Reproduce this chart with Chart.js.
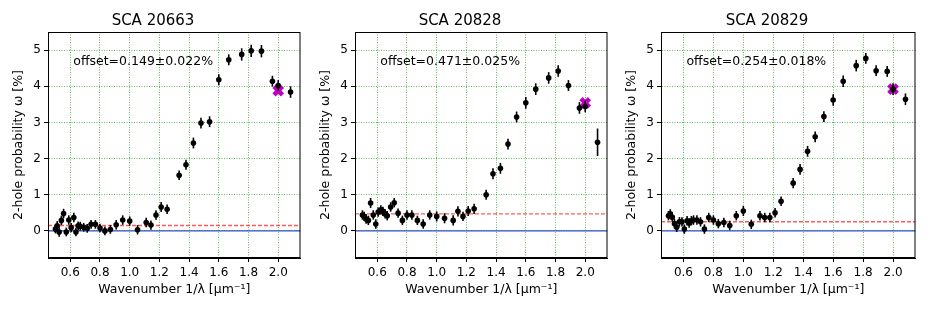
<!DOCTYPE html>
<html>
<head>
<meta charset="utf-8">
<script src="https://cdn.jsdelivr.net/npm/chart.js@4.4.0/dist/chart.umd.min.js"></script>
<style>
  body { margin: 0; background: #fff; }
  #wrap { position: relative; width: 934px; height: 312px; overflow: hidden; }
  canvas { position: absolute; top: 0; }
</style>
</head>
<body>
<div id="wrap">
  <canvas id="c0" width="311" height="312" style="left:0px"></canvas>
  <canvas id="c1" width="311" height="312" style="left:307px"></canvas>
  <canvas id="c2" width="313" height="312" style="left:613px"></canvas>
</div>
<script>
// wavenumber 1/lambda [um^-1], shared by all three detectors
const wavenumber = [0.500, 0.512, 0.525, 0.540, 0.555, 0.573, 0.590, 0.606, 0.624, 0.638,
  0.653, 0.667, 0.690, 0.714, 0.740, 0.769, 0.800, 0.833, 0.870, 0.909,
  0.953, 1.000, 1.053, 1.111, 1.143, 1.177, 1.212, 1.252, 1.333, 1.379,
  1.429, 1.480, 1.538, 1.600, 1.667, 1.754, 1.818, 1.887, 1.961, 2.000, 2.083];

const omega20663 = [0.05, 0.14, -0.03, 0.29, 0.48, -0.03, 0.30, 0.09, 0.37, -0.03,
  0.14, 0.13, 0.10, 0.07, 0.18, 0.18, 0.08, 0.00, 0.04, 0.17,
  0.30, 0.27, 0.03, 0.23, 0.16, 0.44, 0.66, 0.60, 1.54, 1.83,
  2.43, 2.98, 3.02, 4.18, 4.73, 4.88, 4.98, 4.97, 4.14, 4.02, 3.84];
const err20663 = [0.12, 0.13, 0.13, 0.13, 0.13, 0.12, 0.13, 0.13, 0.13, 0.12,
  0.12, 0.12, 0.12, 0.12, 0.12, 0.12, 0.12, 0.12, 0.12, 0.13,
  0.13, 0.13, 0.13, 0.13, 0.13, 0.13, 0.14, 0.13, 0.13, 0.14,
  0.15, 0.15, 0.15, 0.15, 0.15, 0.17, 0.17, 0.17, 0.15, 0.15, 0.16];

const omega20828 = [0.44, 0.40, 0.33, 0.29, 0.77, 0.44, 0.19, 0.52, 0.58, 0.54,
  0.47, 0.42, 0.66, 0.78, 0.49, 0.29, 0.44, 0.44, 0.29, 0.19,
  0.44, 0.40, 0.35, 0.29, 0.54, 0.40, 0.55, 0.61, 1.00, 1.58,
  1.73, 2.40, 3.15, 3.54, 3.92, 4.23, 4.42, 4.02, 3.40, 3.44, 2.45];
const err20828 = [0.13, 0.13, 0.13, 0.13, 0.14, 0.13, 0.13, 0.13, 0.13, 0.13,
  0.13, 0.13, 0.13, 0.13, 0.13, 0.13, 0.13, 0.13, 0.13, 0.13,
  0.13, 0.14, 0.14, 0.14, 0.14, 0.13, 0.14, 0.14, 0.14, 0.15,
  0.15, 0.15, 0.15, 0.16, 0.16, 0.16, 0.16, 0.15, 0.16, 0.16, 0.38];

const omega20829 = [0.42, 0.47, 0.38, 0.20, 0.10, 0.25, 0.25, 0.05, 0.28, 0.22,
  0.28, 0.30, 0.30, 0.25, 0.05, 0.37, 0.30, 0.20, 0.23, 0.15,
  0.42, 0.55, 0.18, 0.42, 0.37, 0.37, 0.50, 0.82, 1.32, 1.70,
  2.20, 2.60, 3.16, 3.62, 4.14, 4.57, 4.77, 4.43, 4.41, 3.92, 3.64];
const err20829 = [0.13, 0.13, 0.13, 0.13, 0.13, 0.13, 0.13, 0.13, 0.13, 0.13,
  0.13, 0.13, 0.13, 0.13, 0.13, 0.13, 0.13, 0.13, 0.13, 0.13,
  0.13, 0.14, 0.13, 0.13, 0.13, 0.13, 0.13, 0.13, 0.14, 0.15,
  0.15, 0.15, 0.15, 0.16, 0.16, 0.16, 0.15, 0.15, 0.15, 0.16, 0.16];

const titles = ['SCA 20663', 'SCA 20828', 'SCA 20829'];
const offsets = [0.149, 0.471, 0.254];
const offsetErrs = [0.022, 0.025, 0.018];
const crossX = 2.0;
const crossY = [3.88, 3.54, 3.92];

const xTicks = [0.6, 0.8, 1.0, 1.2, 1.4, 1.6, 1.8, 2.0];
const yTicks = [0, 1, 2, 3, 4, 5];
const xMin = 0.45, xMax = 2.15, yMin = -0.75, yMax = 5.5;

const font = 'DejaVu Sans';

const extras = {
  id: 'extras',
  afterDatasetsDraw(chart, args, opts) {
    const ctx = chart.ctx, xs = chart.scales.x, ys = chart.scales.y;
    ctx.save();
    ctx.strokeStyle = '#000';
    ctx.lineWidth = 1.6;
    opts.values.forEach((v, i) => {
      const px = xs.getPixelForValue(wavenumber[i]);
      ctx.beginPath();
      ctx.moveTo(px, ys.getPixelForValue(v - opts.err[i]));
      ctx.lineTo(px, ys.getPixelForValue(v + opts.err[i]));
      ctx.stroke();
    });
    ctx.restore();
  },
  afterDraw(chart, args, opts) {
    const ctx = chart.ctx, a = chart.chartArea;
    ctx.save();
    ctx.strokeStyle = '#000';
    ctx.lineWidth = 1;
    ctx.strokeRect(a.left + 0.5, a.top + 0.5, a.right - a.left - 1, a.bottom - a.top - 1);
    ctx.fillStyle = '#000';
    ctx.font = '12.5px "' + font + '"';
    ctx.textBaseline = 'middle';
    ctx.fillText(opts.label, a.left + 0.1 * (a.right - a.left), a.top + 0.13 * (a.bottom - a.top));
    ctx.restore();
  }
};

const sets = [
  [omega20663, err20663],
  [omega20828, err20828],
  [omega20829, err20829]
];

sets.forEach(([vals, errs], k) => {
  const ctx = document.getElementById('c' + k).getContext('2d');
  new Chart(ctx, {
    type: 'scatter',
    plugins: [extras],
    data: {
      datasets: [
        {
          data: vals.map((v, i) => ({ x: wavenumber[i], y: v })),
          backgroundColor: '#000',
          borderWidth: 0,
          pointRadius: 2.8,
          order: 0
        },
        {
          data: [{ x: crossX, y: crossY[k] }],
          pointStyle: 'crossRot',
          pointRadius: 6,
          borderColor: '#c000c0',
          borderWidth: 4.5,
          order: 1
        },
        {
          type: 'line',
          data: [{ x: xMin, y: offsets[k] }, { x: xMax, y: offsets[k] }],
          borderColor: 'rgba(255,50,50,0.8)',
          borderWidth: 1.4,
          borderDash: [4, 2],
          pointRadius: 0,
          order: 2
        },
        {
          type: 'line',
          data: [{ x: xMin, y: 0 }, { x: xMax, y: 0 }],
          borderColor: 'rgb(50,80,200)',
          borderWidth: 1.2,
          pointRadius: 0,
          order: 3
        }
      ]
    },
    options: {
      responsive: false,
      animation: false,
      devicePixelRatio: 1,
      layout: { padding: { left: 0, right: 5, top: 0, bottom: 0 } },
      plugins: {
        legend: { display: false },
        tooltip: { enabled: false },
        title: {
          display: true,
          text: titles[k],
          color: '#000',
          font: { family: font, size: 15, weight: 'normal' },
          padding: { top: 12, bottom: 2 }
        },
        extras: {
          values: vals,
          err: errs,
          label: 'offset=' + offsets[k].toFixed(3) + '\u00b1' + offsetErrs[k].toFixed(3) + '%'
        }
      },
      scales: {
        x: {
          type: 'linear',
          min: xMin,
          max: xMax,
          afterBuildTicks: s => { s.ticks = xTicks.map(v => ({ value: v })); },
          afterFit: s => { s.height = 54; },
          ticks: {
            color: '#000',
            font: { family: font, size: 12 },
            padding: 4,
            maxRotation: 0,
            callback: v => v.toFixed(1)
          },
          grid: { color: 'rgba(0,140,0,0.6)', lineWidth: 1, tickColor: '#000', tickLength: 4 },
          border: { color: '#000', width: 1, dash: [1, 1.5] },
          title: {
            display: true,
            text: 'Wavenumber 1/\u03bb [\u03bcm\u207b\u00b9]',
            color: '#000',
            font: { family: font, size: 12.5 },
            padding: { top: 0, bottom: 15 }
          }
        },
        y: {
          type: 'linear',
          min: yMin,
          max: yMax,
          afterBuildTicks: s => { s.ticks = yTicks.map(v => ({ value: v })); },
          afterFit: s => { s.width = 48; },
          ticks: {
            color: '#000',
            font: { family: font, size: 12 },
            padding: 3,
            callback: v => String(v)
          },
          grid: { color: 'rgba(0,140,0,0.6)', lineWidth: 1, tickColor: '#000', tickLength: 4 },
          border: { color: '#000', width: 1, dash: [1, 1.5] },
          title: {
            display: true,
            text: '2-hole probability \u03c9 [%]',
            color: '#000',
            font: { family: font, size: 12.5 },
            padding: { top: 11, bottom: 0 }
          }
        }
      }
    }
  });
});
</script>
</body>
</html>
